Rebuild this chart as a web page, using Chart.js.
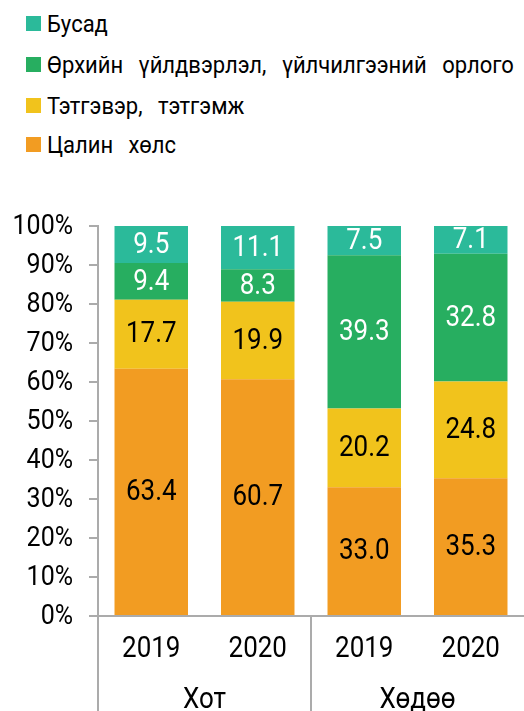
<!DOCTYPE html>
<html>
<head>
<meta charset="utf-8">
<script src="https://cdn.jsdelivr.net/npm/chart.js@4.4.0/dist/chart.umd.min.js"></script>
<style>
  html, body { margin: 0; padding: 0; background: #fff; }
  #wrap { position: relative; width: 524px; height: 711px; overflow: hidden; }
  #legend { position: absolute; left: 26px; top: 0; font-family: Roboto, sans-serif; font-size: 22px; color: #000; }
  .row { position: absolute; left: 0; white-space: nowrap; display: flex; align-items: center; height: 26px; }
  .box { width: 15px; height: 15px; margin-right: 6px; }
  .row span { word-spacing: 10px; display: inline-block; transform: scaleY(1.1); }
  canvas { position: absolute; left: 0; top: 0; }
</style>
</head>
<body>
<div id="wrap">
  <div id="legend"></div>
  <canvas id="chart" width="524" height="711"></canvas>
</div>
<script>
const years = ["2019", "2020", "2019", "2020"];
const groups = ["Хот", "Хөдөө"];
const yTicks = [0, 10, 20, 30, 40, 50, 60, 70, 80, 90, 100];

const seriesNames = ["Цалин хөлс", "Тэтгэвэр, тэтгэмж", "Өрхийн үйлдвэрлэл, үйлчилгээний орлого", "Бусад"];
const wages = [63.4, 60.7, 33.0, 35.3];
const pensions = [17.7, 19.9, 20.2, 24.8];
const household = [9.4, 8.3, 39.3, 32.8];
const other = [9.5, 11.1, 7.5, 7.1];

const colors = ["#F29C22", "#F1C31C", "#27AE60", "#2BBA9A"];
const labelColors = ["#000", "#000", "#fff", "#fff"];
const values = [wages, pensions, household, other];

// legend, top item = last series
const legend = document.getElementById("legend");
const rowTops = [10, 51, 92, 131];
for (let i = 3; i >= 0; i--) {
  const row = document.createElement("div");
  row.className = "row";
  row.style.top = rowTops[3 - i] + "px";
  row.innerHTML = '<div class="box" style="background:' + colors[i] + '"></div><span>' + seriesNames[i] + "</span>";
  legend.appendChild(row);
}

const FONT = "Roboto, sans-serif";
const AXIS = "#ABABAB";
const SY = 1.1; // text in the source is a bit taller than wide

function tallText(ctx, text, x, y) {
  ctx.save();
  ctx.translate(x, y);
  ctx.scale(1, SY);
  ctx.fillText(text, 0, 0);
  ctx.restore();
}

const extras = {
  id: "extras",
  afterDatasetsDraw(chart) {
    const ctx = chart.ctx;
    ctx.save();
    ctx.font = "26px " + FONT;
    ctx.textAlign = "center";
    ctx.textBaseline = "middle";
    chart.data.datasets.forEach((ds, i) => {
      const meta = chart.getDatasetMeta(i);
      meta.data.forEach((bar, j) => {
        ctx.fillStyle = labelColors[i];
        tallText(ctx, ds.data[j].toFixed(1), bar.x, (bar.y + bar.base) / 2 + 1);
      });
    });
    ctx.restore();
  },
  afterDraw(chart) {
    const ctx = chart.ctx;
    const area = chart.chartArea;
    const x = chart.scales.x;
    const y = chart.scales.y;
    ctx.save();
    ctx.strokeStyle = AXIS;
    ctx.lineWidth = 2;
    const mid = (x.getPixelForValue(1) + x.getPixelForValue(2)) / 2;
    [area.left, mid].forEach((px) => {
      ctx.beginPath();
      ctx.moveTo(px, area.bottom);
      ctx.lineTo(px, chart.height);
      ctx.stroke();
    });
    ctx.fillStyle = "#000";
    ctx.textBaseline = "middle";

    // y tick labels
    ctx.font = "25px " + FONT;
    ctx.textAlign = "right";
    y.ticks.forEach((t) => tallText(ctx, t.value + "%", 73, y.getPixelForValue(t.value) + 1));

    // year labels
    ctx.font = "26px " + FONT;
    ctx.textAlign = "center";
    years.forEach((lab, i) => tallText(ctx, lab, x.getPixelForValue(i), 650));

    // group labels
    tallText(ctx, groups[0], (x.getPixelForValue(0) + x.getPixelForValue(1)) / 2, 701);
    tallText(ctx, groups[1], (x.getPixelForValue(2) + x.getPixelForValue(3)) / 2, 701);
    ctx.restore();
  }
};

new Chart(document.getElementById("chart"), {
  type: "bar",
  data: {
    labels: years,
    datasets: values.map((v, i) => ({
      label: seriesNames[i],
      data: v,
      backgroundColor: colors[i],
      borderWidth: 0,
      barPercentage: 0.69,
      categoryPercentage: 1
    }))
  },
  options: {
    responsive: false,
    animation: false,
    layout: { padding: { top: 226, left: 0, right: 0, bottom: 0 } },
    plugins: { legend: { display: false }, tooltip: { enabled: false } },
    scales: {
      x: {
        stacked: true,
        grid: { display: false },
        border: { display: true, color: AXIS, width: 2 },
        ticks: { display: false },
        afterFit(s) { s.height = 95; }
      },
      y: {
        stacked: true,
        min: 0,
        max: 100,
        afterBuildTicks(s) { s.ticks = yTicks.map((v) => ({ value: v })); },
        grid: { drawOnChartArea: false, drawTicks: true, tickLength: 9, color: AXIS, lineWidth: 2 },
        border: { display: true, color: AXIS, width: 2 },
        ticks: { display: false },
        afterFit(s) { s.width = 98; }
      }
    }
  },
  plugins: [extras]
});
</script>
</body>
</html>
